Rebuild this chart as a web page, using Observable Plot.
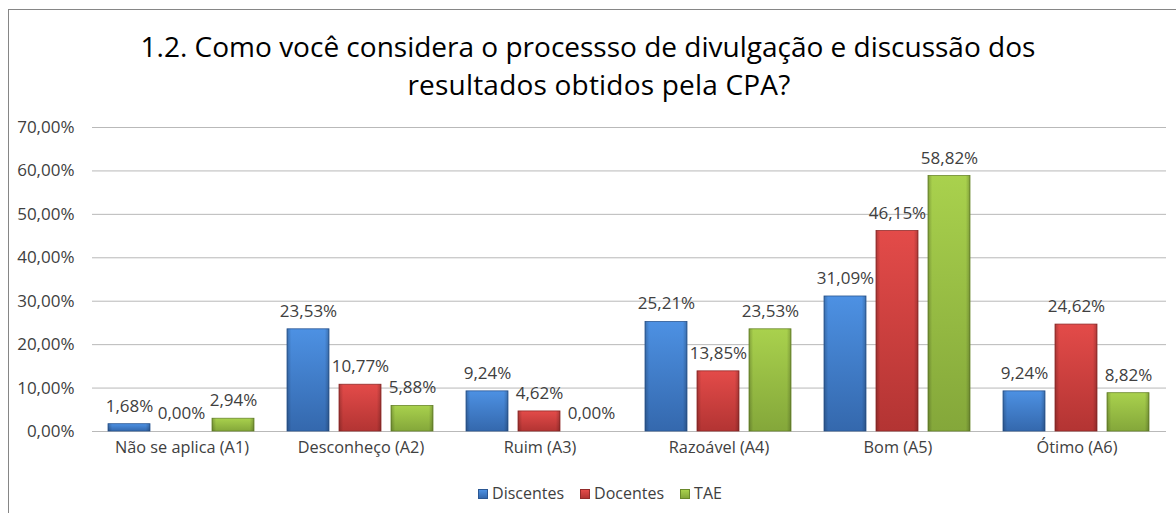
<!DOCTYPE html>
<html>
<head>
<meta charset="utf-8">
<script src="https://cdn.jsdelivr.net/npm/d3@7"></script>
<script src="https://cdn.jsdelivr.net/npm/@observablehq/plot@0.6"></script>
<style>
  html, body { margin: 0; padding: 0; background: #fff; }
  body { position: relative; width: 1176px; height: 513px; overflow: hidden; font-family: "Open Sans", sans-serif; }
  #frame { position: absolute; left: 8px; top: 9px; width: 1200px; height: 600px; border-left: 1.5px solid #868686; border-top: 1.5px solid #868686; pointer-events: none; }
  #title { margin: 0; padding-top: 27px; font-size: 28px; line-height: 38px; text-align: center; color: #000; font-weight: 400; width: 1176px; }
  #title .l2 { display: inline-block; letter-spacing: 0.2px; padding-left: 22px; }
  #chart svg { display: block; }
  #legend { margin-top: 10px; height: 20px; line-height: 20px; font-size: 16px; color: #404040; text-align: center; padding-left: 24px; }
  #legend span.item { display: inline-block; margin: 0 8px; }
  #legend i { display: inline-block; width: 10px; height: 10px; margin-right: 4px; vertical-align: 0px; box-sizing: border-box; }
</style>
</head>
<body>
<div id="frame"></div>
<div id="title">1.2. Como você considera o processso de divulgação e discussão dos<br><span class="l2">resultados obtidos pela CPA?</span></div>
<div id="chart"></div>
<div id="legend"></div>
<script>
const categories = ["Não se aplica (A1)", "Desconheço (A2)", "Ruim (A3)", "Razoável (A4)", "Bom (A5)", "Ótimo (A6)"];
const series = ["Discentes", "Docentes", "TAE"];
const discentes = [1.68, 23.53, 9.24, 25.21, 31.09, 9.24];
const docentes = [0.00, 10.77, 4.62, 13.85, 46.15, 24.62];
const tae = [2.94, 5.88, 0.00, 23.53, 58.82, 8.82];
const yTicks = [0, 10, 20, 30, 40, 50, 60, 70];

const seriesValues = [discentes, docentes, tae];
const gradIds = {Discentes: "gBlue", Docentes: "gRed", TAE: "gGreen"};
// [top, bottom, edge]
const colors = {
  Discentes: ["#4d91e3", "#3468ad", "#2b5793"],
  Docentes: ["#e34b49", "#b33433", "#922b2a"],
  TAE: ["#a9d14d", "#84a73a", "#6a882b"]
};

const rows = [];
categories.forEach((c, i) => {
  series.forEach((s, j) => rows.push({category: c, series: s, value: seriesValues[j][i]}));
});

const fmt = v => v.toFixed(2).replace(".", ",") + "%";

const barMarks = series.flatMap(s => [
  Plot.barY(rows, {
    x: "series",
    y: "value",
    filter: d => d.series === s && d.value > 0,
    fill: `url(#${gradIds[s]})`,
    stroke: colors[s][2],
    strokeWidth: 0.8
  }),
  Plot.barY(rows, {
    x: "series",
    y: "value",
    filter: d => d.series === s && d.value > 0,
    fill: "url(#gEdge)"
  })
]);

const chart = Plot.plot({
  width: 1176,
  height: 370,
  marginTop: 24,
  marginBottom: 42,
  marginLeft: 91,
  marginRight: 9,
  style: {fontFamily: "'Open Sans', sans-serif", fontSize: "16px", color: "#404040", background: "transparent", overflow: "visible"},
  facet: {data: rows, x: "category"},
  fx: {domain: categories, padding: 0, label: null},
  x: {domain: series, axis: null, paddingInner: 0.19, paddingOuter: 0.287},
  y: {domain: [0, 70], label: null},
  marks: [
    Plot.ruleY(yTicks, {stroke: "#b9b9b9", strokeWidth: 1}),
    Plot.axisY(yTicks, {tickFormat: fmt, tickSize: 0, tickPadding: 18, fontSize: 17, label: null, fill: "#404040"}),
    Plot.axisFx({anchor: "bottom", tickSize: 0, tickPadding: 10, fontSize: 16.3, label: null, fill: "#404040"}),
    ...barMarks,
    Plot.text(rows, {x: "series", y: "value", text: d => fmt(d.value), dy: -18, fill: "#404040", fontSize: 17})
  ]
});

const defs = d3.select(chart).insert("defs", ":first-child");
series.forEach(s => {
  const g = defs.append("linearGradient").attr("id", gradIds[s]).attr("x1", 0).attr("x2", 0).attr("y1", 0).attr("y2", 1);
  g.append("stop").attr("offset", 0).attr("stop-color", colors[s][0]);
  g.append("stop").attr("offset", 1).attr("stop-color", colors[s][1]);
});
const ge = defs.append("linearGradient").attr("id", "gEdge").attr("x1", 0).attr("x2", 1).attr("y1", 0).attr("y2", 0);
[[0, 0.22], [0.1, 0], [0.9, 0], [1, 0.22]].forEach(([o, a]) =>
  ge.append("stop").attr("offset", o).attr("stop-color", "#000").attr("stop-opacity", a));

document.getElementById("chart").appendChild(chart);

const legend = document.getElementById("legend");
series.forEach(s => {
  const item = document.createElement("span");
  item.className = "item";
  const sw = document.createElement("i");
  const c = colors[s];
  sw.style.background = `linear-gradient(to bottom, ${c[0]}, ${c[1]})`;
  sw.style.border = `1px solid ${c[2]}`;
  item.appendChild(sw);
  item.appendChild(document.createTextNode(s));
  legend.appendChild(item);
});
</script>
</body>
</html>
